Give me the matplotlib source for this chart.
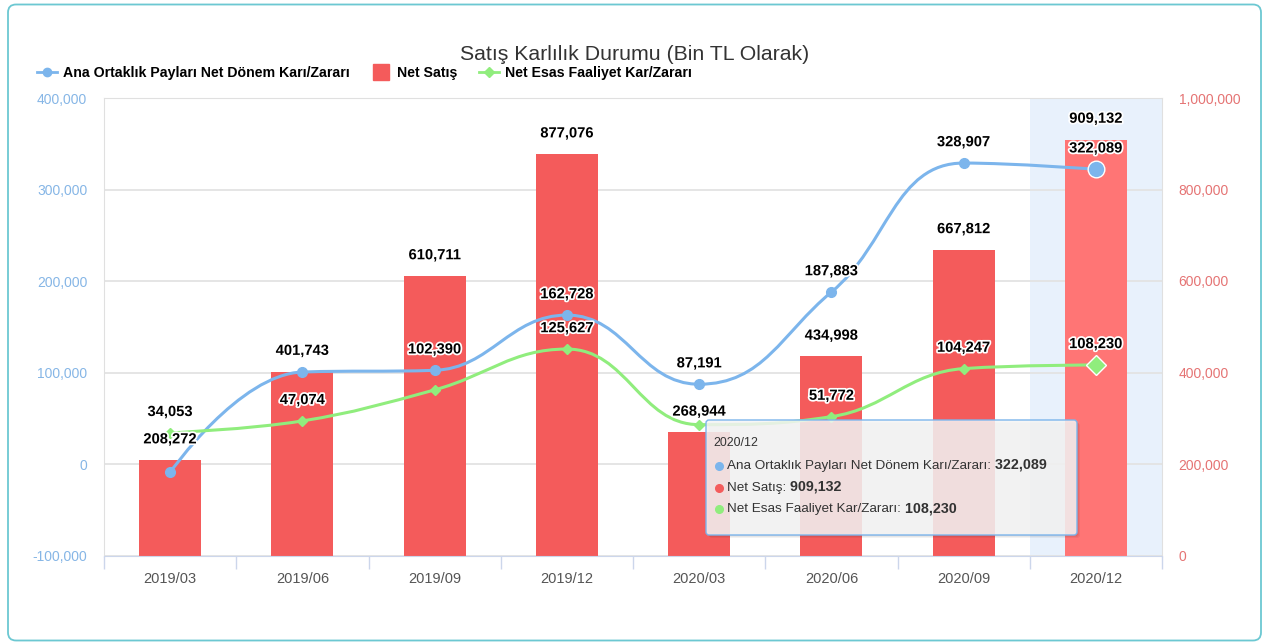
import numpy as np
import matplotlib
matplotlib.use("Agg")
import matplotlib.pyplot as plt
import matplotlib.patheffects as pe
from matplotlib.path import Path
from matplotlib.patches import PathPatch, FancyBboxPatch
from matplotlib.lines import Line2D
from matplotlib.transforms import IdentityTransform
from matplotlib.font_manager import FontProperties

quarters = ["2019/03", "2019/06", "2019/09", "2019/12", "2020/03", "2020/06", "2020/09", "2020/12"]
ana_ortaklik = [-9000, 100500, 102390, 162728, 87191, 187883, 328907, 322089]
net_satis = [208272, 401743, 610711, 877076, 268944, 434998, 667812, 909132]
net_esas = [34053, 47074, 81000, 125627, 43000, 51772, 104247, 108230]
# labels the original chart hid because they overlapped other labels
ana_hidden = [0, 1]
esas_hidden = [2, 4]

left_ticks = [-100000, 0, 100000, 200000, 300000, 400000]
right_ticks = [0, 200000, 400000, 600000, 800000, 1000000]

BLUE = "#7cb5ec"
RED = "#f45b5b"
RED_HOVER = "#ff7575"
GREEN = "#90ed7d"
FONT = ["Liberation Sans", "DejaVu Sans"]

W, H = 1262, 642
fig = plt.figure(figsize=(W / 100, H / 100), dpi=100)

# plot area in pixels: x 104..1162, y 98..555
ax = fig.add_axes([104 / W, 1 - 555.5 / H, 1058 / W, 457.5 / H])
ax2 = ax.twinx()
ax2.patch.set_visible(False)

n = len(quarters)
x = np.arange(n)

# bars on the right axis
ax.set_xlim(-0.5, n - 0.5)
ax.set_ylim(0, 1000000)
ax.axvspan(n - 1.5, n - 0.5, color="#e8f1fc", zorder=0.2, lw=0)
colors = [RED] * (n - 1) + [RED_HOVER]
ax.bar(x, net_satis, width=0.47, color=colors, zorder=2)
ax.set_axisbelow(True)
ax.grid(axis="y", color="#e3e3e3", lw=1.3)
ax.yaxis.tick_right()
ax.set_yticks(right_ticks)
ax.set_yticklabels([f"{v:,}" for v in right_ticks])
ax.tick_params(axis="y", length=0, pad=12, labelsize=10, labelcolor="#e57474")
for lab in ax.get_yticklabels():
    lab.set_family(FONT)

ax.set_xticks(x)
ax.set_xticklabels(quarters, family=FONT, fontsize=10.5, color="#555555")
ax.set_xticks(np.arange(-0.5, n, 1.0), minor=True)
ax.tick_params(axis="x", which="major", length=0, pad=12)
ax.tick_params(axis="x", which="minor", length=9.5, color="#ccd6eb", width=1)
ax.spines["bottom"].set_color("#ccd6eb")
for s in ["left", "right", "top"]:
    ax.spines[s].set_color("#e0e0e0")

# lines on the left axis
ax2.set_ylim(-100000, 400000)
ax2.yaxis.tick_left()
ax2.set_yticks(left_ticks)
ax2.set_yticklabels([f"{v:,}" for v in left_ticks])
ax2.tick_params(axis="y", length=0, pad=12, labelsize=10, labelcolor="#86b6e6")
for lab in ax2.get_yticklabels():
    lab.set_family(FONT)
for s in ax2.spines.values():
    s.set_visible(False)

sx = 1058 / n
sy = 457.5 / 500000


def spline_path(xs, ys):
    # highcharts-like spline, control points worked out in pixel units
    px = np.asarray(xs, float) * sx
    py = np.asarray(ys, float) * sy
    m = len(px)
    lc = [(px[i], py[i]) for i in range(m)]
    rc = [(px[i], py[i]) for i in range(m)]
    sm = 1.5
    for i in range(1, m - 1):
        cx, cy = px[i], py[i]
        lx, ly = px[i - 1], py[i - 1]
        nx, ny = px[i + 1], py[i + 1]
        lcx = (sm * cx + lx) / (sm + 1)
        lcy = (sm * cy + ly) / (sm + 1)
        rcx = (sm * cx + nx) / (sm + 1)
        rcy = (sm * cy + ny) / (sm + 1)
        dl = np.hypot(lcx - cx, lcy - cy)
        dr = np.hypot(rcx - cx, rcy - cy)
        la = np.arctan2(lcy - cy, lcx - cx)
        ra = np.arctan2(rcy - cy, rcx - cx)
        ja = np.pi / 2 + (la + ra) / 2
        if abs(la - ja) > np.pi / 2:
            ja -= np.pi
        lcx = cx + np.cos(ja) * dl
        lcy = cy + np.sin(ja) * dl
        rcx = cx + np.cos(np.pi + ja) * dr
        rcy = cy + np.sin(np.pi + ja) * dr
        if lcy > max(ly, cy):
            lcy = max(ly, cy)
            rcy = 2 * cy - lcy
        elif lcy < min(ly, cy):
            lcy = min(ly, cy)
            rcy = 2 * cy - lcy
        if rcy > max(cy, ny):
            rcy = max(cy, ny)
            lcy = 2 * cy - rcy
        elif rcy < min(cy, ny):
            rcy = min(cy, ny)
            lcy = 2 * cy - rcy
        lc[i] = (lcx, lcy)
        rc[i] = (rcx, rcy)
    verts = [(px[0], py[0])]
    codes = [Path.MOVETO]
    for i in range(1, m):
        verts += [rc[i - 1], lc[i], (px[i], py[i])]
        codes += [Path.CURVE4] * 3
    verts = np.array(verts) / [sx, sy]
    return Path(verts, codes)


ax2.add_patch(PathPatch(spline_path(x, ana_ortaklik), fill=False, ec=BLUE, lw=2.2, zorder=3))
ax2.add_patch(PathPatch(spline_path(x, net_esas), fill=False, ec=GREEN, lw=2.2, zorder=3))
ax2.plot(x[:-1], ana_ortaklik[:-1], ls="", marker="o", ms=7, color=BLUE, zorder=4)
ax2.plot(x[-1:], ana_ortaklik[-1:], ls="", marker="o", ms=12, color=BLUE, mec="white", mew=1, zorder=4)
ax2.plot(x[:-1], net_esas[:-1], ls="", marker="D", ms=5.5, color=GREEN, zorder=4)
ax2.plot(x[-1:], net_esas[-1:], ls="", marker="D", ms=10, color=GREEN, mec="white", mew=1, zorder=4)

halo = [pe.withStroke(linewidth=2.5, foreground="white")]
lab_kw = dict(textcoords="offset points", xytext=(0, 15), ha="center", va="center",
              fontsize=10.6, fontweight="bold", family=FONT, color="black",
              path_effects=halo, zorder=6, annotation_clip=False)
for i, v in enumerate(net_satis):
    ax2.annotate(f"{v:,}", xy=(i, v), xycoords=ax.transData, **lab_kw)
for i, v in enumerate(ana_ortaklik):
    if i not in ana_hidden:
        ax2.annotate(f"{v:,}", xy=(i, v), **lab_kw)
for i, v in enumerate(net_esas):
    if i not in esas_hidden:
        ax2.annotate(f"{v:,}", xy=(i, v), **lab_kw)

# title and legend
fig.text(635 / W, 1 - 60 / H, "Satış Karlılık Durumu (Bin TL Olarak)", ha="center", va="baseline",
         family=FONT, fontsize=15.3, color="#333333")
handles = [
    Line2D([], [], color=BLUE, lw=2, marker="o", ms=6),
    Line2D([], [], ls="", marker="s", ms=11, color=RED),
    Line2D([], [], color=GREEN, lw=2, marker="D", ms=5),
]
names = ["Ana Ortaklık Payları Net Dönem Karı/Zararı", "Net Satış", "Net Esas Faaliyet Kar/Zararı"]
fig.legend(handles, names, loc="center left", bbox_to_anchor=(37 / W, 1 - 73 / H), ncol=3,
           frameon=False, prop=FontProperties(family=FONT, weight="bold", size=10.15),
           handlelength=1.45, handletextpad=0.4, columnspacing=1.5, borderpad=0, borderaxespad=0)

# tooltip for the hovered point
px_t = IdentityTransform()
for k in range(3):
    fig.add_artist(FancyBboxPatch((706 + 1 + k, H - 535 - 1 - k), 371, 115, boxstyle="round,pad=0,rounding_size=3",
                                  transform=px_t, fc="black", ec="none", alpha=0.05, zorder=9))
fig.add_artist(FancyBboxPatch((706, H - 535), 371, 115, boxstyle="round,pad=0,rounding_size=3",
                              transform=px_t, fc=(0.97, 0.97, 0.97, 0.85), ec=BLUE, lw=1, zorder=10))
fig.text(713, H - 443, quarters[-1], transform=px_t, va="center", ha="left",
         family=FONT, fontsize=8.9, color="#333333", zorder=11)
tip_rows = [
    (BLUE, names[0], ana_ortaklik[-1]),
    (RED, names[1], net_satis[-1]),
    (GREEN, names[2], net_esas[-1]),
]
for j, (c, name, v) in enumerate(tip_rows):
    yy = H - (465.7 + 21.8 * j)
    fig.add_artist(Line2D([718.5], [yy], transform=px_t, ls="", marker="o", ms=5.5,
                          color=c, zorder=11))
    t = fig.text(727, yy, name + ":", transform=px_t, va="center", ha="left",
                 family=FONT, fontsize=9.7, color="#333333", zorder=11)
    fig.add_artist(matplotlib.text.Annotation(" " + f"{v:,}", xy=(1, 0), xycoords=t, va="bottom", ha="left",
                                              family=FONT, fontsize=10.3, fontweight="bold",
                                              color="#333333", zorder=11))

# outer rounded frame
fig.add_artist(FancyBboxPatch((8, 1.5), 1253, 636, boxstyle="round,pad=0,rounding_size=8",
                              transform=px_t, fc="none", ec="#6cc8d2", lw=1.3, zorder=12))

fig.savefig("out.png", dpi=100)
